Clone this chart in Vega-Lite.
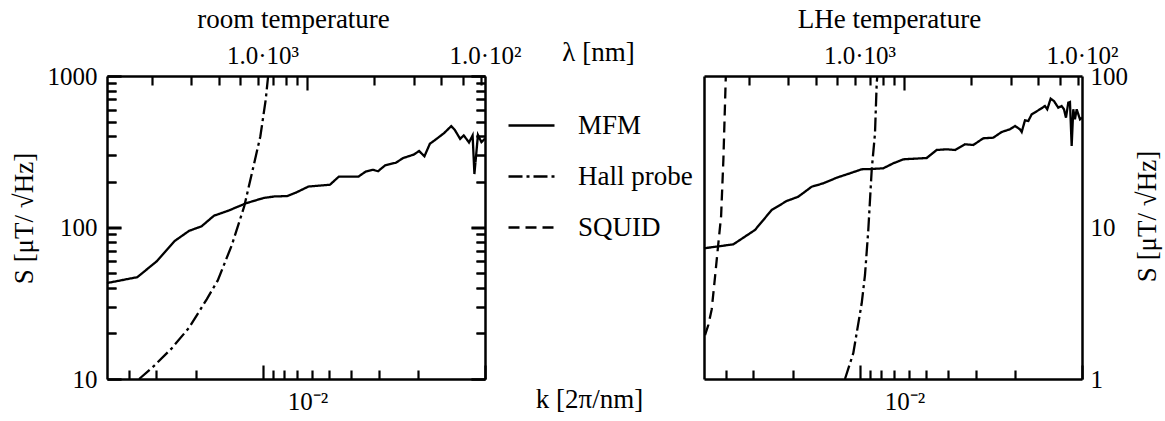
{
  "$schema": "https://vega.github.io/schema/vega-lite/v6.json",
  "width": 975,
  "height": 303,
  "autosize": {"type": "none"},
  "padding": {"left": 107, "top": 76, "right": 83, "bottom": 42},
  "background": "white",
  "config": {
    "view": {"stroke": null},
    "axis": {"labelFlush": false, "labelOverlap": false, "gridColor": "black", "gridWidth": 2.2, "gridOpacity": 1}
  },
  "data": {
    "values": [
      {"panel": "room", "series": "MFM", "k": 0.0012566, "S": 43.0},
      {"panel": "room", "series": "MFM", "k": 0.00172, "S": 47.0},
      {"panel": "room", "series": "MFM", "k": 0.002107, "S": 60.0},
      {"panel": "room", "series": "MFM", "k": 0.002535, "S": 81.6},
      {"panel": "room", "series": "MFM", "k": 0.002938, "S": 95.0},
      {"panel": "room", "series": "MFM", "k": 0.003343, "S": 101.8},
      {"panel": "room", "series": "MFM", "k": 0.003804, "S": 119.7},
      {"panel": "room", "series": "MFM", "k": 0.00441, "S": 129.1},
      {"panel": "room", "series": "MFM", "k": 0.005302, "S": 144.6},
      {"panel": "room", "series": "MFM", "k": 0.00638, "S": 156.9},
      {"panel": "room", "series": "MFM", "k": 0.007125, "S": 160.3},
      {"panel": "room", "series": "MFM", "k": 0.008108, "S": 161.2},
      {"panel": "room", "series": "MFM", "k": 0.008888, "S": 170.0},
      {"panel": "room", "series": "MFM", "k": 0.01011, "S": 186.4},
      {"panel": "room", "series": "MFM", "k": 0.01263, "S": 191.6},
      {"panel": "room", "series": "MFM", "k": 0.01385, "S": 216.8},
      {"panel": "room", "series": "MFM", "k": 0.01696, "S": 216.8},
      {"panel": "room", "series": "MFM", "k": 0.01827, "S": 233.9},
      {"panel": "room", "series": "MFM", "k": 0.01966, "S": 240.3},
      {"panel": "room", "series": "MFM", "k": 0.02078, "S": 235.2},
      {"panel": "room", "series": "MFM", "k": 0.02237, "S": 257.6},
      {"panel": "room", "series": "MFM", "k": 0.02498, "S": 267.6},
      {"panel": "room", "series": "MFM", "k": 0.02692, "S": 287.3},
      {"panel": "room", "series": "MFM", "k": 0.03006, "S": 302.8},
      {"panel": "room", "series": "MFM", "k": 0.03176, "S": 319.9},
      {"panel": "room", "series": "MFM", "k": 0.03357, "S": 295.2},
      {"panel": "room", "series": "MFM", "k": 0.0355, "S": 356.6},
      {"panel": "room", "series": "MFM", "k": 0.03821, "S": 386.4},
      {"panel": "room", "series": "MFM", "k": 0.04111, "S": 419.4},
      {"panel": "room", "series": "MFM", "k": 0.04429, "S": 466.9},
      {"panel": "room", "series": "MFM", "k": 0.04598, "S": 440.1},
      {"panel": "room", "series": "MFM", "k": 0.04858, "S": 384.6},
      {"panel": "room", "series": "MFM", "k": 0.05042, "S": 405.5},
      {"panel": "room", "series": "MFM", "k": 0.05325, "S": 364.2},
      {"panel": "room", "series": "MFM", "k": 0.05527, "S": 405.5},
      {"panel": "room", "series": "MFM", "k": 0.05631, "S": 225.3},
      {"panel": "room", "series": "MFM", "k": 0.05841, "S": 407.9},
      {"panel": "room", "series": "MFM", "k": 0.06056, "S": 365.9},
      {"panel": "room", "series": "MFM", "k": 0.06283, "S": 386.4},
      {"panel": "room", "series": "Hall probe", "k": 0.001752, "S": 10.0},
      {"panel": "room", "series": "Hall probe", "k": 0.002032, "S": 12.1},
      {"panel": "room", "series": "Hall probe", "k": 0.002442, "S": 15.8},
      {"panel": "room", "series": "Hall probe", "k": 0.002938, "S": 21.8},
      {"panel": "room", "series": "Hall probe", "k": 0.003532, "S": 33.7},
      {"panel": "room", "series": "Hall probe", "k": 0.00395, "S": 44.6},
      {"panel": "room", "series": "Hall probe", "k": 0.004573, "S": 76.5},
      {"panel": "room", "series": "Hall probe", "k": 0.005205, "S": 138.6},
      {"panel": "room", "series": "Hall probe", "k": 0.005711, "S": 250.0},
      {"panel": "room", "series": "Hall probe", "k": 0.006145, "S": 400.0},
      {"panel": "room", "series": "Hall probe", "k": 0.006497, "S": 700.0},
      {"panel": "room", "series": "Hall probe", "k": 0.00666, "S": 1000.0},
      {"panel": "lhe", "series": "MFM", "k": 0.0012566, "S": 7.29},
      {"panel": "lhe", "series": "MFM", "k": 0.001702, "S": 7.74},
      {"panel": "lhe", "series": "MFM", "k": 0.00213, "S": 9.63},
      {"panel": "lhe", "series": "MFM", "k": 0.002532, "S": 13.05},
      {"panel": "lhe", "series": "MFM", "k": 0.002957, "S": 14.96},
      {"panel": "lhe", "series": "MFM", "k": 0.003334, "S": 15.97},
      {"panel": "lhe", "series": "MFM", "k": 0.00383, "S": 18.59},
      {"panel": "lhe", "series": "MFM", "k": 0.004318, "S": 19.57},
      {"panel": "lhe", "series": "MFM", "k": 0.004961, "S": 21.31},
      {"panel": "lhe", "series": "MFM", "k": 0.005692, "S": 22.79},
      {"panel": "lhe", "series": "MFM", "k": 0.006427, "S": 24.23},
      {"panel": "lhe", "series": "MFM", "k": 0.007126, "S": 24.33},
      {"panel": "lhe", "series": "MFM", "k": 0.008035, "S": 24.59},
      {"panel": "lhe", "series": "MFM", "k": 0.008913, "S": 26.53},
      {"panel": "lhe", "series": "MFM", "k": 0.009883, "S": 28.19},
      {"panel": "lhe", "series": "MFM", "k": 0.01259, "S": 28.75},
      {"panel": "lhe", "series": "MFM", "k": 0.01396, "S": 32.48},
      {"panel": "lhe", "series": "MFM", "k": 0.01549, "S": 32.82},
      {"panel": "lhe", "series": "MFM", "k": 0.01688, "S": 32.48},
      {"panel": "lhe", "series": "MFM", "k": 0.01872, "S": 35.42},
      {"panel": "lhe", "series": "MFM", "k": 0.0204, "S": 35.05},
      {"panel": "lhe", "series": "MFM", "k": 0.02262, "S": 38.8},
      {"panel": "lhe", "series": "MFM", "k": 0.02508, "S": 39.15},
      {"panel": "lhe", "series": "MFM", "k": 0.02736, "S": 42.7},
      {"panel": "lhe", "series": "MFM", "k": 0.02981, "S": 44.49},
      {"panel": "lhe", "series": "MFM", "k": 0.03141, "S": 46.77},
      {"panel": "lhe", "series": "MFM", "k": 0.03307, "S": 44.49},
      {"panel": "lhe", "series": "MFM", "k": 0.03366, "S": 42.7},
      {"panel": "lhe", "series": "MFM", "k": 0.03483, "S": 51.02},
      {"panel": "lhe", "series": "MFM", "k": 0.03604, "S": 50.47},
      {"panel": "lhe", "series": "MFM", "k": 0.03733, "S": 55.87},
      {"panel": "lhe", "series": "MFM", "k": 0.04068, "S": 60.29},
      {"panel": "lhe", "series": "MFM", "k": 0.04283, "S": 63.39},
      {"panel": "lhe", "series": "MFM", "k": 0.04385, "S": 60.29},
      {"panel": "lhe", "series": "MFM", "k": 0.04543, "S": 70.82},
      {"panel": "lhe", "series": "MFM", "k": 0.047, "S": 68.39},
      {"panel": "lhe", "series": "MFM", "k": 0.04915, "S": 61.77},
      {"panel": "lhe", "series": "MFM", "k": 0.0509, "S": 63.39},
      {"panel": "lhe", "series": "MFM", "k": 0.05214, "S": 60.29},
      {"panel": "lhe", "series": "MFM", "k": 0.05323, "S": 53.07},
      {"panel": "lhe", "series": "MFM", "k": 0.05451, "S": 66.65},
      {"panel": "lhe", "series": "MFM", "k": 0.05547, "S": 67.35},
      {"panel": "lhe", "series": "MFM", "k": 0.05646, "S": 34.51},
      {"panel": "lhe", "series": "MFM", "k": 0.05741, "S": 60.29},
      {"panel": "lhe", "series": "MFM", "k": 0.05842, "S": 51.8},
      {"panel": "lhe", "series": "MFM", "k": 0.05946, "S": 60.29},
      {"panel": "lhe", "series": "MFM", "k": 0.06153, "S": 51.8},
      {"panel": "lhe", "series": "MFM", "k": 0.06282, "S": 53.07},
      {"panel": "lhe", "series": "Hall probe", "k": 0.005406, "S": 1.0},
      {"panel": "lhe", "series": "Hall probe", "k": 0.005891, "S": 1.48},
      {"panel": "lhe", "series": "Hall probe", "k": 0.006427, "S": 3.16},
      {"panel": "lhe", "series": "Hall probe", "k": 0.00665, "S": 4.86},
      {"panel": "lhe", "series": "Hall probe", "k": 0.006881, "S": 9.63},
      {"panel": "lhe", "series": "Hall probe", "k": 0.007128, "S": 23.97},
      {"panel": "lhe", "series": "Hall probe", "k": 0.007375, "S": 41.86},
      {"panel": "lhe", "series": "Hall probe", "k": 0.007507, "S": 89.5},
      {"panel": "lhe", "series": "Hall probe", "k": 0.007554, "S": 100.0},
      {"panel": "lhe", "series": "SQUID", "k": 0.00127, "S": 1.95},
      {"panel": "lhe", "series": "SQUID", "k": 0.001314, "S": 2.27},
      {"panel": "lhe", "series": "SQUID", "k": 0.001361, "S": 2.88},
      {"panel": "lhe", "series": "SQUID", "k": 0.00141, "S": 4.79},
      {"panel": "lhe", "series": "SQUID", "k": 0.001459, "S": 7.94},
      {"panel": "lhe", "series": "SQUID", "k": 0.0015, "S": 11.9},
      {"panel": "lhe", "series": "SQUID", "k": 0.001536, "S": 28.2},
      {"panel": "lhe", "series": "SQUID", "k": 0.001575, "S": 100.0}
    ]
  },
  "resolve": {
    "scale": {"x": "independent", "y": "independent", "strokeDash": "shared"},
    "axis": {"x": "independent", "y": "independent"}
  },
  "layer": [
    {
      "transform": [{"filter": "datum.panel === 'room'"}],
      "mark": {"type": "line", "stroke": "black", "strokeWidth": 2.3},
      "encoding": {
        "x": {"field": "k", "type": "quantitative",
          "scale": {"type": "log", "domain": [0.0012566371, 0.0628318531], "range": [0, 378], "nice": false},
          "axis": {"orient": "bottom", "values": [0.01], "domainColor": "black", "domainWidth": 2.5, "ticks": false, "tickSize": 0,
            "grid": true, "gridDash": [14, 2000],
            "labelExpr": "'10⁻²'", "labelFont": "Liberation Serif", "labelFontSize": 25, "labelColor": "black", "labelPadding": 10, "labelBaseline": "top",
            "title": "k [2π/nm]", "titleFont": "Liberation Serif", "titleFontSize": 27, "titleFontWeight": "normal", "titleColor": "black",
            "titleX": 482, "titleY": 28, "titleAlign": "center", "titleBaseline": "alphabetic"}},
        "y": {"field": "S", "type": "quantitative",
          "scale": {"type": "log", "domain": [10, 1000], "range": [303, 0], "nice": false},
          "axis": {"orient": "left", "values": [10, 100, 1000], "domainColor": "black", "domainWidth": 2.5, "ticks": false, "tickSize": 0, "format": "d",
            "grid": true, "gridDash": [14, 350, 14, 2000],
            "labelFont": "Liberation Serif", "labelFontSize": 25, "labelColor": "black", "labelPadding": 10,
            "title": "S [μT/ √Hz]", "titleFont": "Liberation Serif", "titleFontSize": 27, "titleFontWeight": "normal", "titleColor": "black",
            "titleAngle": 270, "titleX": -83, "titleY": 142, "titleAlign": "center", "titleBaseline": "middle"}},
        "strokeDash": {"field": "series", "type": "nominal",
          "scale": {"domain": ["MFM", "Hall probe", "SQUID"], "range": [[1, 0], [14, 4, 3, 4], [11, 6]]},
          "legend": {"orient": "none", "legendX": 400, "legendY": 25, "title": null, "padding": 0,
            "symbolType": "stroke", "symbolSize": 2116, "symbolStrokeWidth": 2.3, "symbolStrokeColor": "black",
            "labelFont": "Liberation Serif", "labelFontSize": 27, "labelColor": "black", "labelOffset": 22, "rowPadding": 13}}
      }
    },
    {
      "transform": [{"filter": "datum.panel === 'room'"}],
      "mark": {"type": "line", "strokeOpacity": 0},
      "encoding": {
        "x": {"field": "k", "type": "quantitative",
          "scale": {"type": "log", "domain": [0.0012566371, 0.0628318531], "range": [0, 378], "nice": false},
          "axis": {"orient": "top", "values": [0.0062831853, 0.0628318531], "domainColor": "black", "domainWidth": 2.5, "ticks": false, "tickSize": 0,
            "grid": true, "gridDash": [14, 2000],
            "labelExpr": "datum.value < 0.02 ? '1.0·10³' : '1.0·10²'", "labelFont": "Liberation Serif", "labelFontSize": 25, "labelColor": "black", "labelPadding": 8,
            "title": "λ [nm]", "titleFont": "Liberation Serif", "titleFontSize": 27, "titleFontWeight": "normal", "titleColor": "black",
            "titleX": 491, "titleY": -16, "titleAlign": "center", "titleBaseline": "alphabetic"}},
        "y": {"field": "S", "type": "quantitative",
          "scale": {"type": "log", "domain": [10, 1000], "range": [303, 0], "nice": false},
          "axis": {"orient": "right", "offset": -597, "values": [100], "domainColor": "black", "domainWidth": 2.5, "ticks": false, "tickSize": 0, "labels": false, "title": null}}
      }
    },
    {
      "transform": [{"filter": "datum.panel === 'room'"}],
      "mark": {"type": "line", "strokeOpacity": 0},
      "encoding": {
        "x": {"field": "k", "type": "quantitative",
          "scale": {"type": "log", "domain": [0.0012566371, 0.0628318531], "range": [0, 378], "nice": false},
          "axis": {"orient": "bottom", "domain": false, "ticks": false, "labels": false, "title": null,
            "values": [0.002, 0.003, 0.004, 0.005, 0.006, 0.007, 0.008, 0.009, 0.02, 0.03, 0.04, 0.05, 0.06],
            "grid": true, "gridDash": [9, 2000]}},
        "y": {"field": "S", "type": "quantitative",
          "scale": {"type": "log", "domain": [10, 1000], "range": [303, 0], "nice": false},
          "axis": {"orient": "left", "domain": false, "ticks": false, "labels": false, "title": null,
            "values": [20, 30, 40, 50, 60, 70, 80, 90, 200, 300, 400, 500, 600, 700, 800, 900],
            "grid": true, "gridDash": [9, 360, 9, 2000]}}
      }
    },
    {
      "transform": [{"filter": "datum.panel === 'room'"}],
      "mark": {"type": "line", "strokeOpacity": 0},
      "encoding": {
        "x": {"field": "k", "type": "quantitative",
          "scale": {"type": "log", "domain": [0.0012566371, 0.0628318531], "range": [0, 378], "nice": false},
          "axis": {"orient": "top", "domain": false, "ticks": false, "labels": false,
            "values": [0.0015708, 0.0020944, 0.0031416, 0.0069813, 0.007854, 0.008976, 0.010472, 0.012566, 0.015708, 0.020944, 0.031416],
            "grid": true, "gridDash": [9, 2000],
            "title": "room temperature", "titleFont": "Liberation Serif", "titleFontSize": 27, "titleFontWeight": "normal", "titleColor": "black",
            "titleX": 186, "titleY": -49, "titleAlign": "center", "titleBaseline": "alphabetic", "titleAngle": 0}},
        "y": {"field": "S", "type": "quantitative",
          "scale": {"type": "log", "domain": [10, 1000], "range": [303, 0], "nice": false},
          "axis": null}
      }
    },
    {
      "transform": [{"filter": "datum.panel === 'lhe'"}],
      "mark": {"type": "line", "stroke": "black", "strokeWidth": 2.3},
      "encoding": {
        "x": {"field": "k", "type": "quantitative",
          "scale": {"type": "log", "domain": [0.0012566371, 0.0628318531], "range": [597, 975], "nice": false},
          "axis": {"orient": "bottom", "values": [0.01], "domainColor": "black", "domainWidth": 2.5, "ticks": false, "tickSize": 0,
            "grid": true, "gridDash": [14, 2000],
            "labelExpr": "'10⁻²'", "labelFont": "Liberation Serif", "labelFontSize": 25, "labelColor": "black", "labelPadding": 10, "labelBaseline": "top", "title": null}},
        "y": {"field": "S", "type": "quantitative",
          "scale": {"type": "log", "domain": [1, 100], "range": [303, 0], "nice": false},
          "axis": {"orient": "left", "offset": -597, "values": [10], "domainColor": "black", "domainWidth": 2.5, "ticks": false, "tickSize": 0, "labels": false, "title": null}},
        "strokeDash": {"field": "series", "type": "nominal",
          "scale": {"domain": ["MFM", "Hall probe", "SQUID"], "range": [[1, 0], [14, 4, 3, 4], [11, 6]]}}
      }
    },
    {
      "transform": [{"filter": "datum.panel === 'lhe'"}],
      "mark": {"type": "line", "strokeOpacity": 0},
      "encoding": {
        "x": {"field": "k", "type": "quantitative",
          "scale": {"type": "log", "domain": [0.0012566371, 0.0628318531], "range": [597, 975], "nice": false},
          "axis": {"orient": "top", "values": [0.0062831853, 0.0628318531], "domainColor": "black", "domainWidth": 2.5, "ticks": false, "tickSize": 0,
            "grid": true, "gridDash": [14, 2000],
            "labelExpr": "datum.value < 0.02 ? '1.0·10³' : '1.0·10²'", "labelFont": "Liberation Serif", "labelFontSize": 25, "labelColor": "black", "labelPadding": 8, "title": null}},
        "y": {"field": "S", "type": "quantitative",
          "scale": {"type": "log", "domain": [1, 100], "range": [303, 0], "nice": false},
          "axis": {"orient": "right", "values": [1, 10, 100], "domainColor": "black", "domainWidth": 2.5, "ticks": false, "tickSize": 0, "format": "d",
            "grid": true, "gridDash": [14, 350, 14, 2000],
            "labelFont": "Liberation Serif", "labelFontSize": 25, "labelColor": "black", "labelPadding": 8,
            "title": "S [μT/ √Hz]", "titleFont": "Liberation Serif", "titleFontSize": 27, "titleFontWeight": "normal", "titleColor": "black",
            "titleAngle": 270, "titleX": 65, "titleY": 140, "titleAlign": "center", "titleBaseline": "middle"}}
      }
    },
    {
      "transform": [{"filter": "datum.panel === 'lhe'"}],
      "mark": {"type": "line", "strokeOpacity": 0},
      "encoding": {
        "x": {"field": "k", "type": "quantitative",
          "scale": {"type": "log", "domain": [0.0012566371, 0.0628318531], "range": [597, 975], "nice": false},
          "axis": {"orient": "bottom", "domain": false, "ticks": false, "labels": false, "title": null,
            "values": [0.002, 0.003, 0.004, 0.005, 0.006, 0.007, 0.008, 0.009, 0.02, 0.03, 0.04, 0.05, 0.06],
            "grid": true, "gridDash": [9, 2000]}},
        "y": {"field": "S", "type": "quantitative",
          "scale": {"type": "log", "domain": [1, 100], "range": [303, 0], "nice": false},
          "axis": {"orient": "right", "domain": false, "ticks": false, "labels": false, "title": null,
            "values": [2, 3, 4, 5, 6, 7, 8, 9, 20, 30, 40, 50, 60, 70, 80, 90],
            "grid": true, "gridDash": [9, 360, 9, 2000]}}
      }
    },
    {
      "transform": [{"filter": "datum.panel === 'lhe'"}],
      "mark": {"type": "line", "strokeOpacity": 0},
      "encoding": {
        "x": {"field": "k", "type": "quantitative",
          "scale": {"type": "log", "domain": [0.0012566371, 0.0628318531], "range": [597, 975], "nice": false},
          "axis": {"orient": "top", "domain": false, "ticks": false, "labels": false,
            "values": [0.0015708, 0.0020944, 0.0031416, 0.0069813, 0.007854, 0.008976, 0.010472, 0.012566, 0.015708, 0.020944, 0.031416],
            "grid": true, "gridDash": [9, 2000],
            "title": "LHe temperature", "titleFont": "Liberation Serif", "titleFontSize": 27, "titleFontWeight": "normal", "titleColor": "black",
            "titleX": 782, "titleY": -49, "titleAlign": "center", "titleBaseline": "alphabetic", "titleAngle": 0}},
        "y": {"field": "S", "type": "quantitative",
          "scale": {"type": "log", "domain": [1, 100], "range": [303, 0], "nice": false},
          "axis": null}
      }
    }
  ]
}
